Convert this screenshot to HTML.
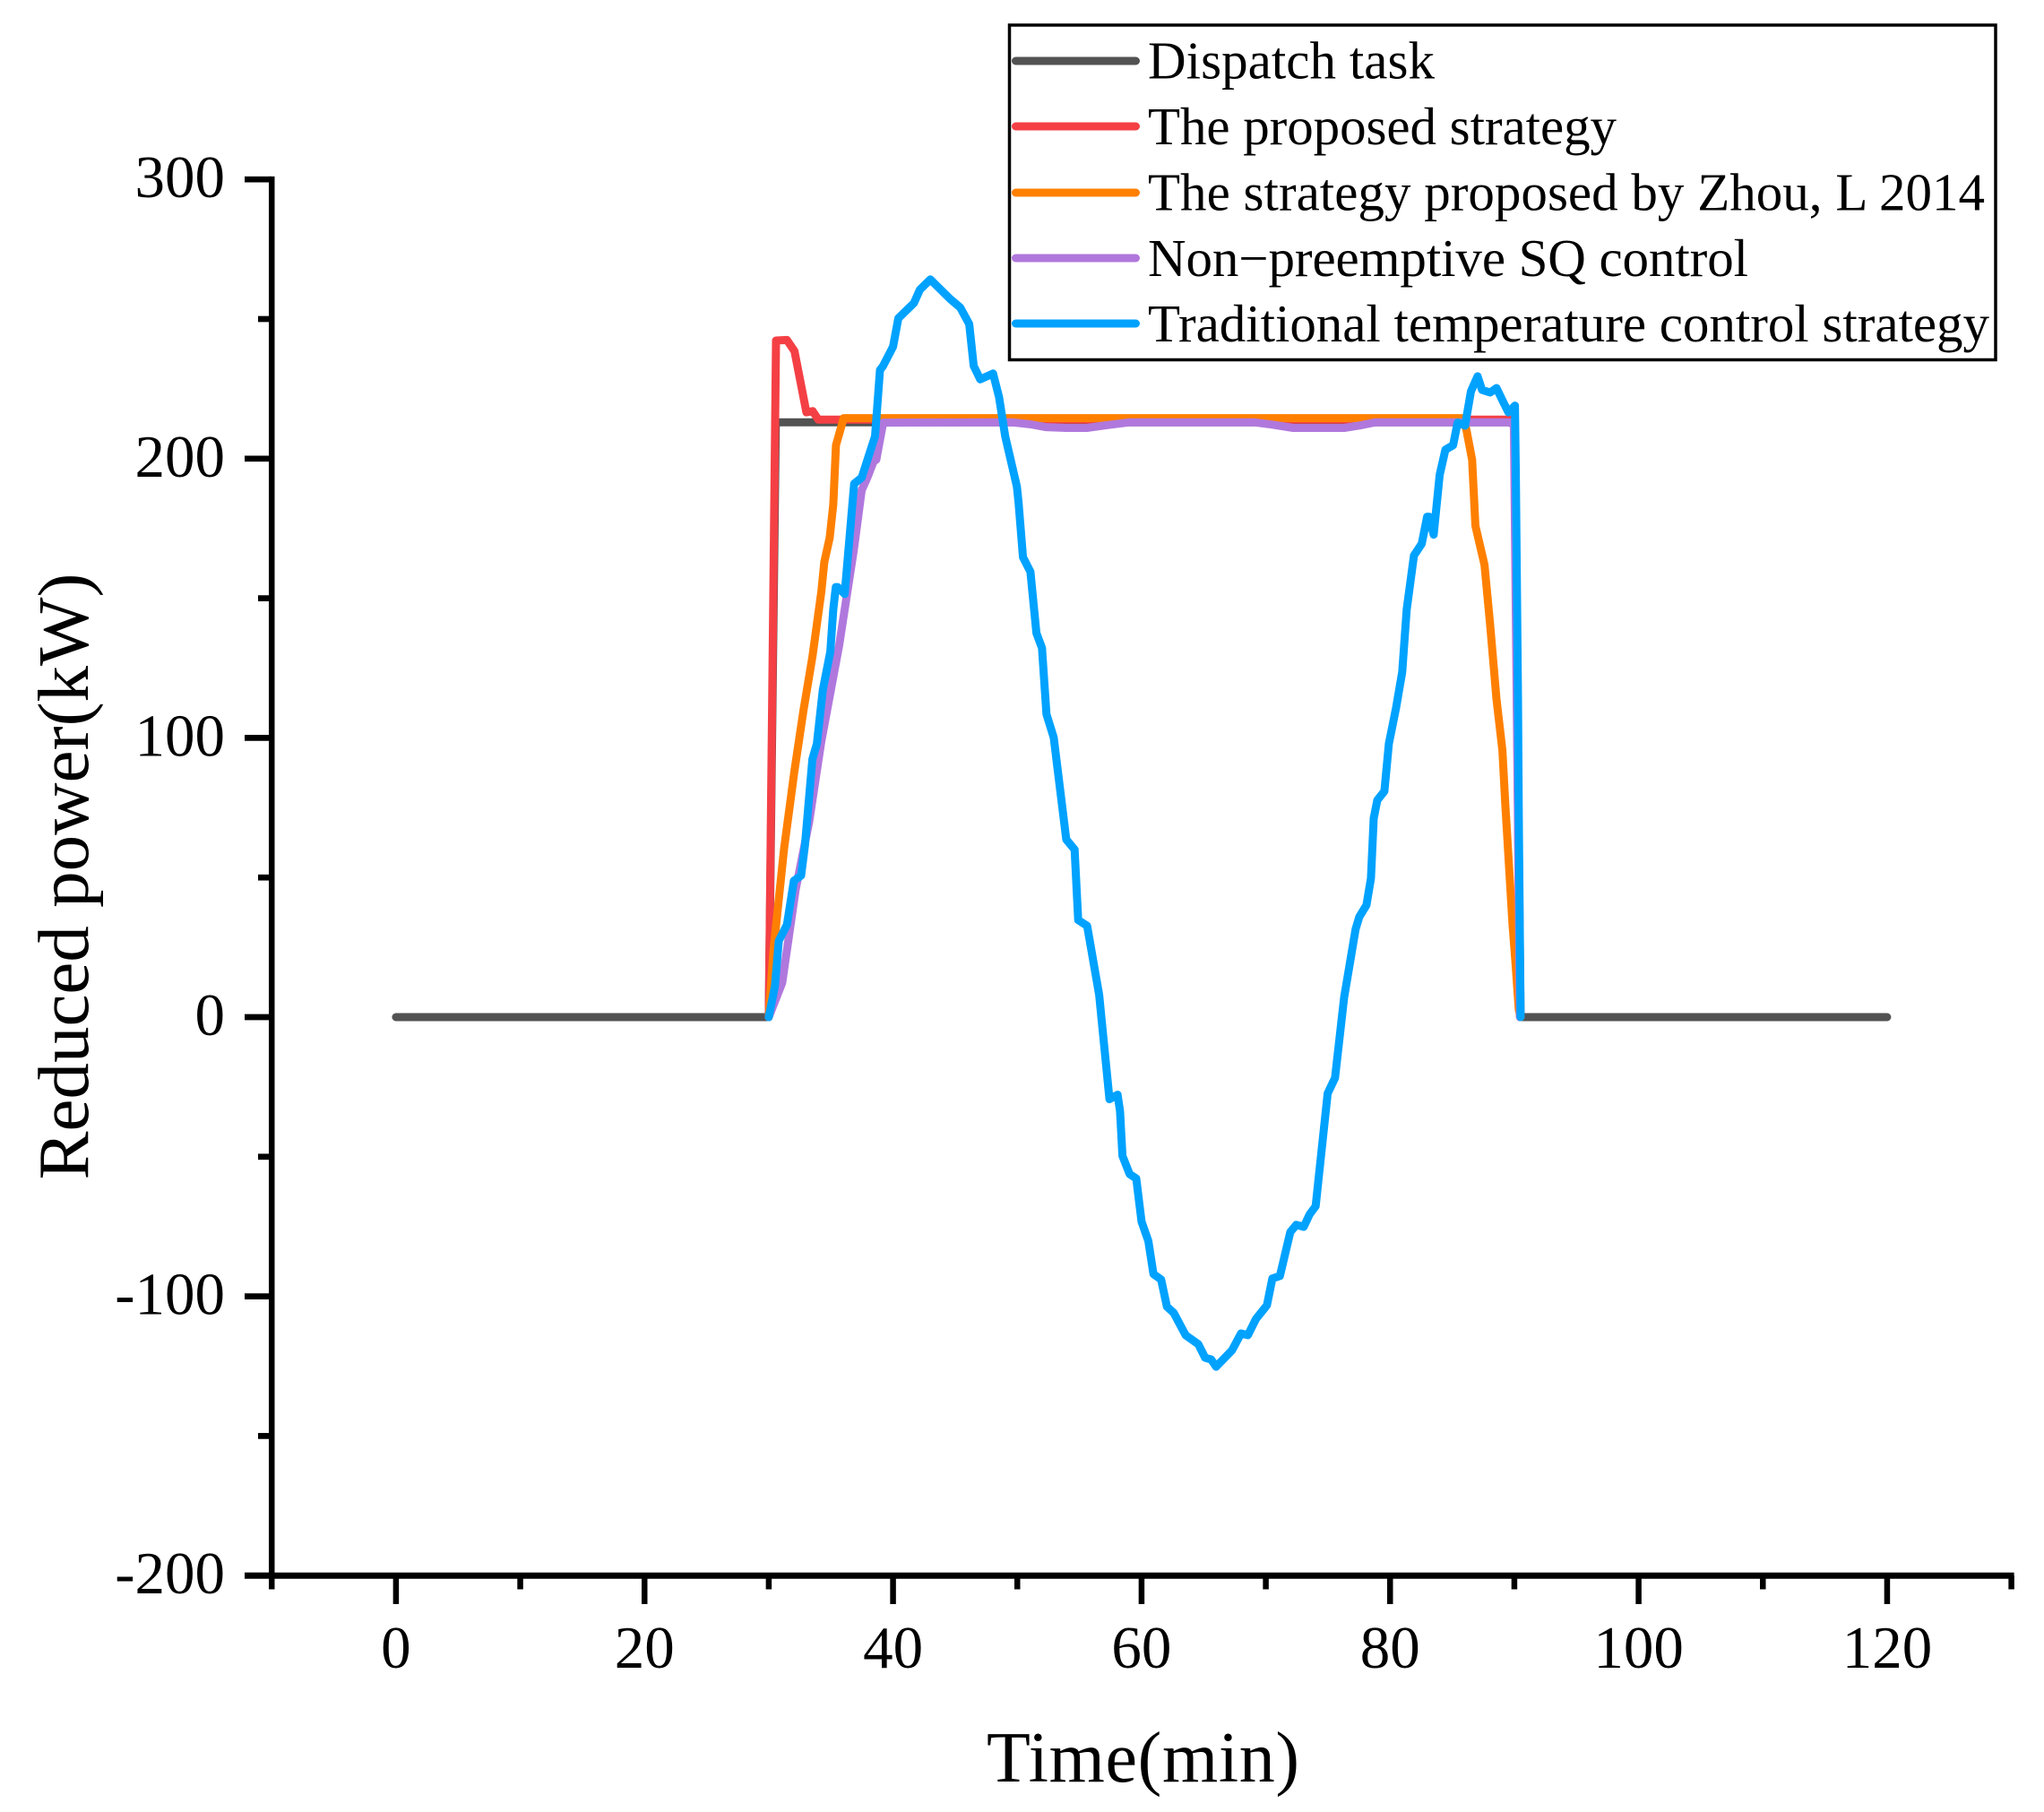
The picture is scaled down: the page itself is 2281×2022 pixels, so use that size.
<!DOCTYPE html>
<html lang="en">
<head>
<meta charset="utf-8">
<title>Reduced power over time</title>
<style>
html,body{margin:0;padding:0;background:#fff;}
svg{display:block;}
text{font-family:"Liberation Serif","Times New Roman",serif;fill:#000;}
</style>
</head>
<body>
<svg id="chart" xmlns="http://www.w3.org/2000/svg" width="2281" height="2022" viewBox="0 0 2281 2022">
  <rect x="0" y="0" width="2281" height="2022" fill="#fff"/>
  <g id="series-layer"></g>
  <g id="axes-layer"></g>
  <text x="1275.5" y="1988" font-size="80" text-anchor="middle" textLength="349" lengthAdjust="spacing">Time(min)</text>
  <text x="0" y="0" transform="translate(98 978) rotate(-90)" font-size="81" text-anchor="middle" textLength="677" lengthAdjust="spacing">Reduced power(kW)</text>
  <g>
    <rect x="1126.5" y="28" width="1100.5" height="373.5" fill="none" stroke="#000" stroke-width="3.5"/>
    <g>
      <line x1="1133.5" y1="68" x2="1267.5" y2="68" stroke="#525252" stroke-width="9" stroke-linecap="round"/>
      <text x="1281" y="87.5" font-size="59" textLength="320" lengthAdjust="spacing">Dispatch task</text>
    </g>
    <g>
      <line x1="1133.5" y1="141" x2="1267.5" y2="141" stroke="#F44045" stroke-width="9" stroke-linecap="round"/>
      <text x="1281" y="161" font-size="59" textLength="523" lengthAdjust="spacing">The proposed strategy</text>
    </g>
    <g>
      <line x1="1133.5" y1="215" x2="1267.5" y2="215" stroke="#FF8000" stroke-width="9" stroke-linecap="round"/>
      <text x="1281" y="234.5" font-size="59" textLength="934" lengthAdjust="spacing">The strategy proposed by Zhou, L 2014</text>
    </g>
    <g>
      <line x1="1133.5" y1="288" x2="1267.5" y2="288" stroke="#B078DD" stroke-width="9" stroke-linecap="round"/>
      <text x="1281" y="308" font-size="59" textLength="670" lengthAdjust="spacing">Non−preemptive SQ control</text>
    </g>
    <g>
      <line x1="1133.5" y1="361" x2="1267.5" y2="361" stroke="#00A2FF" stroke-width="9" stroke-linecap="round"/>
      <text x="1281" y="381" font-size="59" textLength="939" lengthAdjust="spacing">Traditional temperature control strategy</text>
    </g>
  </g>
</svg>
<script>
// ---- chart data (minutes, kW) ----
const xTickLabels = [0, 20, 40, 60, 80, 100, 120];
const xMinorTicks = [-10, 10, 30, 50, 70, 90, 110, 130];
const yTickLabels = [300, 200, 100, 0, -100, -200];
const yMinorTicks = [250, 150, 50, -50, -150];

const dispatchT = [0, 30, 30.57, 90, 90.5, 120];
const dispatchV = [0, 0, 213, 213, 0, 0];

const proposedT = [30, 30.58, 31.46, 32.07, 33.03, 33.53, 33.99, 90, 90.45];
const proposedV = [0, 242.3, 242.5, 238.5, 216.6, 217, 214, 214, 0];

const zhouT = [30, 30.38, 31.23, 32.07, 32.79, 33.51, 34.23, 34.47, 34.9, 35.19, 35.41, 36.03, 85.9, 86.15, 86.6, 86.87, 87.6, 88.05, 88.56, 89.04, 89.27, 89.63, 89.85, 90.12, 90.36, 90.5];
const zhouV = [0, 24.1, 60.4, 88.3, 109.8, 129, 152.4, 163, 171.7, 183.6, 204.8, 214.5, 214.5, 210.2, 199.6, 175.9, 162, 140.6, 113.9, 95.6, 76.4, 49.7, 33.7, 17.7, 2.6, 0];

const sqT = [30, 31.08, 32.16, 33.25, 34.23, 35.67, 36.85, 37.48, 37.93, 38.44, 38.65, 39.21, 49.6, 51.06, 52.28, 53.94, 55.6, 57.2, 59, 69.1, 70.5, 72.2, 76.3, 77.7, 78.8, 89.6, 89.96, 90.45];
const sqV = [0, 12.3, 45.6, 70, 98.8, 133.2, 167.5, 188.7, 193.2, 199, 199.6, 212.9, 213, 212.3, 211.3, 211, 211, 212, 213, 213, 212.2, 211, 211, 212, 213, 213, 212, 0];

const tempT = [30, 30.5, 30.81, 31.46, 32.02, 32.6, 32.91, 33.51, 33.87, 34.35, 34.95, 35.19, 35.39, 35.55, 36.11, 36.87, 37.48, 38.55, 38.95, 39.2, 40, 40.43, 41.68, 42.16, 43, 44.57, 45.41, 46.13, 46.49, 47.02, 48.05, 48.53, 49.02, 49.97, 50.1, 50.46, 51.06, 51.54, 51.99, 52.35, 52.93, 53.94, 54.61, 54.9, 55.62, 56.59, 57.42, 58.07, 58.27, 58.46, 59.04, 59.57, 60, 60.55, 60.96, 61.58, 62.04, 62.59, 63.55, 64.56, 65.12, 65.6, 66, 67.28, 68, 68.56, 69.21, 70.09, 70.53, 71.13, 71.97, 72.45, 73.05, 73.53, 74.01, 74.98, 75.57, 76.3, 77.23, 77.52, 78.1, 78.46, 78.68, 78.97, 79.54, 79.9, 80.48, 80.98, 81.34, 81.92, 82.55, 82.98, 83.15, 83.51, 83.99, 84.45, 85.07, 85.43, 86.03, 86.51, 87.04, 87.4, 88.05, 88.56, 89.04, 89.52, 90.05, 90.12, 90.29, 90.36, 90.5];
const tempV = [0, 11.2, 27.3, 33.1, 48.8, 50.7, 61.6, 92.4, 97.9, 117.1, 130.9, 146, 154, 154, 151.5, 191, 193.2, 208, 231.7, 233.2, 240.1, 250.3, 255.7, 260.5, 264.2, 257.3, 254.1, 248.2, 233.2, 228.4, 230.5, 222, 208.1, 190, 184.5, 164.7, 159.5, 137.5, 132.2, 108.5, 100.1, 63.6, 60, 34.8, 32.7, 8, -29.4, -27.8, -33.7, -49.7, -56.2, -57.8, -73.2, -80.2, -92, -94, -103.7, -105.9, -113.9, -117.1, -122, -122.6, -125.2, -119.3, -113.3, -113.9, -108.1, -103.2, -93.6, -92.7, -77, -74.4, -75.1, -70.6, -67.7, -27.3, -21.8, 7.1, 31.5, 35.9, 40.1, 49.7, 71.2, 77.7, 80.9, 97.9, 110.7, 123.6, 146, 165.3, 169.5, 179.2, 179.2, 172.8, 194.2, 203.2, 204.8, 212.9, 211.8, 224.1, 229.5, 224.6, 223.7, 225.3, 220.9, 216.6, 219, 194.2, 113.9, 71.2, 0];

// ---- axis functions ----
const xScale = function (t) { return 441.9 + 13.867 * t; };
const yScale = function (v) { return 1135 - 3.116 * v; };

const NS = 'http://www.w3.org/2000/svg';
const seriesLayer = document.getElementById('series-layer');
const axesLayer = document.getElementById('axes-layer');

function drawSeries(ts, vs, color, name) {
  const path = document.createElementNS(NS, 'path');
  let d = '';
  for (let i = 0; i < ts.length; i++) {
    d += (i ? 'L' : 'M') + xScale(ts[i]).toFixed(1) + ' ' + yScale(vs[i]).toFixed(1);
  }
  path.setAttribute('d', d);
  path.setAttribute('fill', 'none');
  path.setAttribute('stroke', color);
  path.setAttribute('stroke-width', '9');
  path.setAttribute('stroke-linecap', 'round');
  path.setAttribute('stroke-linejoin', 'round');
  
  
  seriesLayer.appendChild(path);
}

drawSeries(dispatchT, dispatchV, '#525252', 'series-dispatch-task');
drawSeries(proposedT, proposedV, '#F44045', 'series-proposed-strategy');
drawSeries(zhouT, zhouV, '#FF8000', 'series-zhou-strategy');
drawSeries(sqT, sqV, '#B078DD', 'series-sq-control');
drawSeries(tempT, tempV, '#00A2FF', 'series-temperature-control');

function drawLine(x1, y1, x2, y2, w, name) {
  const l = document.createElementNS(NS, 'line');
  l.setAttribute('x1', x1);
  l.setAttribute('y1', y1);
  l.setAttribute('x2', x2);
  l.setAttribute('y2', y2);
  l.setAttribute('stroke', '#000');
  l.setAttribute('stroke-width', w);
  
  
  axesLayer.appendChild(l);
}

function drawLabel(x, y, str, anchor, name) {
  const t = document.createElementNS(NS, 'text');
  t.setAttribute('x', x);
  t.setAttribute('y', y);
  t.setAttribute('font-size', '67');
  t.setAttribute('text-anchor', anchor);
  t.textContent = str;
  
  
  axesLayer.appendChild(t);
}

const axisY = yScale(-200);
const axisX = xScale(-10);

drawLine(axisX, yScale(300) - 3.3, axisX, axisY + 3.3, 6.5, 'y-axis-line');
drawLine(273, axisY, xScale(130) + 3, axisY, 7, 'x-axis-line');

xTickLabels.forEach(function (v) {
  drawLine(xScale(v), axisY, xScale(v), 1790, 6.5, 'x-major-tick-' + v);
  drawLabel(xScale(v), 1861, String(v), 'middle', 'x-tick-label-' + v);
});
xMinorTicks.forEach(function (v) {
  drawLine(xScale(v), axisY, xScale(v), 1773.5, 6.5, 'x-minor-tick-' + v);
});
yTickLabels.forEach(function (v) {
  drawLine(273, yScale(v), axisX, yScale(v), 6.7, 'y-major-tick-' + v);
  drawLabel(251, yScale(v) + 20, String(v), 'end', 'y-tick-label-' + v);
});
yMinorTicks.forEach(function (v) {
  drawLine(288, yScale(v), axisX, yScale(v), 6.7, 'y-minor-tick-' + v);
});
</script>
</body>
</html>
